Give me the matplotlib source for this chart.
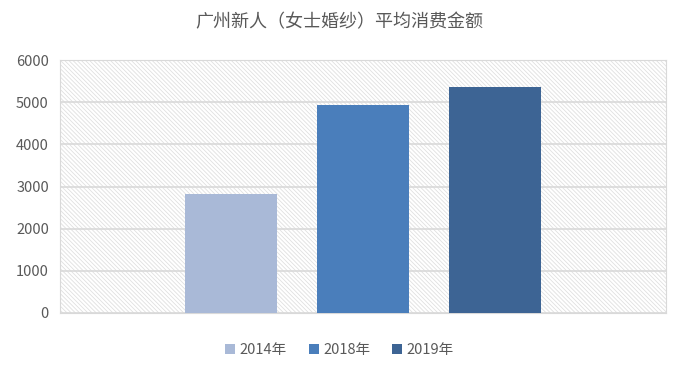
import matplotlib.pyplot as plt

plt.rcParams['font.family'] = ['Noto Sans CJK SC', 'DejaVu Sans']
plt.rcParams['hatch.color'] = '#e0e0e0'
plt.rcParams['hatch.linewidth'] = 0.6

years = ['2014年', '2018年', '2019年']
values = [2820, 4930, 5360]
colors = ['#a9b9d7', '#4a7ebb', '#3d6494']
yticks = [0, 1000, 2000, 3000, 4000, 5000, 6000]

fig = plt.figure(figsize=(6.79, 3.78), dpi=100)
ax = fig.add_axes([60 / 679, 1 - 313 / 378, 606 / 679, 253 / 378])

# hatched plot area background
ax.axhspan(0, 6000, facecolor='white', edgecolor='#e0e0e0', hatch='\\' * 8, linewidth=0, zorder=0)

for i, (name, v, c) in enumerate(zip(years, values, colors)):
    ax.bar(i - 1, v, 0.697, color=c, label=name, zorder=3)

ax.set_xlim(-2.295, 2.295)
ax.set_ylim(0, 6000)
ax.set_yticks(yticks)
ax.set_xticks([])
ax.grid(axis='y', color='#d9d9d9', linewidth=1.2, zorder=1)
ax.set_axisbelow(True)
for s in ax.spines.values():
    s.set_color('#d9d9d9')
ax.tick_params(axis='y', length=0, labelsize=10.5, labelcolor='#595959', pad=8)

fig.text(0.5, 1 - 22 / 378, '广州新人（女士婚纱）平均消费金额', ha='center', va='center',
         fontsize=13, color='#595959')

fig.legend(loc='center', bbox_to_anchor=(0.5, 1 - 350 / 378), ncol=3, frameon=False,
           fontsize=10.5, labelcolor='#595959', handlelength=0.7, handleheight=0.7,
           handletextpad=0.3, columnspacing=1.5)

plt.savefig('out.png')
